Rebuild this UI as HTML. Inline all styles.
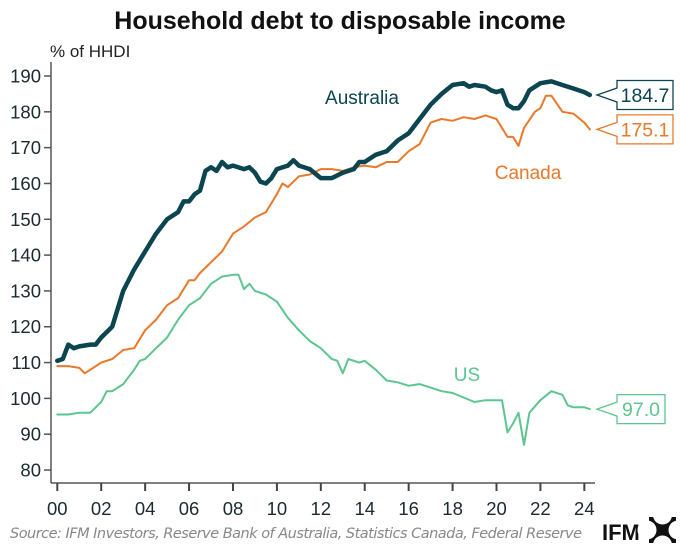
<!DOCTYPE html>
<html><head><meta charset="utf-8"><style>
body{margin:0;background:#fff;width:680px;height:553px;overflow:hidden;font-family:"Liberation Sans",sans-serif}
</style></head><body>
<svg id="chart" width="680" height="553">
<text x="340" y="29" text-anchor="middle" font-size="25" font-weight="bold" fill="#111">Household debt to disposable income</text>
<text x="50" y="57" font-size="17" fill="#222">% of HHDI</text>
<g id="axes"></g>
<g id="series"></g>
<text x="362" y="104" text-anchor="middle" font-size="19" fill="#0b4550">Australia</text>
<text x="528" y="179" text-anchor="middle" font-size="19" fill="#e8792b">Canada</text>
<text x="467" y="381" text-anchor="middle" font-size="19" fill="#5dc58f">US</text>
<g id="callouts"></g>
<text x="10" y="538" font-size="14.5" font-style="italic" fill="#888" font-family="'DejaVu Sans',sans-serif" textLength="572">Source: IFM Investors, Reserve Bank of Australia, Statistics Canada, Federal Reserve</text>
<text x="602" y="540" font-size="22" font-weight="bold" fill="#111">IFM</text>
<g>
<rect x="649" y="517" width="27" height="26" fill="#111"/>
<circle cx="662.5" cy="515" r="9.5" fill="#fff"/>
<circle cx="662.5" cy="545" r="9.5" fill="#fff"/>
<circle cx="647" cy="530" r="9.5" fill="#fff"/>
<circle cx="678" cy="530" r="9.5" fill="#fff"/>
</g>
</svg>
<script>
const ausDates=[2000,2000.25,2000.5,2000.75,2001,2001.5,2001.75,2002,2002.25,2002.5,2002.75,2003,2003.5,2004,2004.5,2005,2005.5,2005.75,2006,2006.25,2006.5,2006.75,2007,2007.25,2007.5,2007.75,2008,2008.5,2008.75,2009,2009.25,2009.5,2009.75,2010,2010.5,2010.75,2011,2011.5,2012,2012.5,2013,2013.5,2013.75,2014,2014.5,2015,2015.5,2016,2016.5,2017,2017.5,2018,2018.5,2018.75,2019,2019.5,2019.75,2020,2020.25,2020.5,2020.75,2021,2021.25,2021.5,2022,2022.5,2023,2023.5,2024,2024.25];
const ausValues=[110.5,111,115,114,114.5,115,115,117,118.5,120,125,130,136,141,146,150,152,155,155,157,158,163.5,164.5,163.5,166,164.5,165,164,164.5,163,160.5,160,161.5,164,165,166.5,165,164,161.5,161.5,163,164,166,166,168,169,172,174,178,182,185,187.5,188,187,187.5,187,186,185.5,186,182,181,181,183,186,188,188.5,187.5,186.5,185.5,184.7];
const canDates=[2000,2000.5,2001,2001.25,2002,2002.5,2003,2003.5,2004,2004.5,2005,2005.5,2006,2006.25,2006.5,2007,2007.5,2008,2008.5,2009,2009.5,2010,2010.25,2010.5,2011,2011.5,2012,2012.5,2013,2013.5,2014,2014.5,2015,2015.5,2016,2016.5,2017,2017.5,2018,2018.5,2019,2019.5,2020,2020.5,2020.75,2021,2021.25,2021.75,2022,2022.25,2022.5,2023,2023.5,2024,2024.25];
const canValues=[109,109,108.5,107,110,111,113.5,114,119,122,126,128,133,133,135,138,141,146,148,150.5,152,157,160,159,162,162.5,164,164,163.5,164.5,165,164.5,166,166,169,171,177,178,177.5,178.5,178,179,178,173,173,170.5,175.5,180,181,184.5,184.5,180,179.5,177,175.1];
const usDates=[2000,2000.5,2001,2001.5,2002,2002.25,2002.5,2003,2003.5,2003.75,2004,2004.5,2005,2005.5,2006,2006.5,2007,2007.25,2007.5,2008,2008.25,2008.5,2008.75,2009,2009.5,2010,2010.5,2011,2011.5,2012,2012.5,2012.75,2013,2013.25,2013.75,2014,2014.5,2015,2015.5,2016,2016.5,2017,2017.5,2018,2019,2019.5,2020.25,2020.5,2020.75,2021,2021.25,2021.5,2022,2022.5,2023,2023.25,2023.5,2024,2024.25];
const usValues=[95.5,95.5,96,96,99,102,102,104,108,110.5,111,114,117,122,126,128,132,133,134,134.5,134.5,130.5,132,130,129,127,122.5,119,116,114,111,110.5,107,111,110,110.5,108,105,104.5,103.5,104,103,102,101.5,99,99.5,99.5,90.5,93,96,87,96,99.5,102,101,98,97.5,97.5,97.0];
const yTicks=[80,90,100,110,120,130,140,150,160,170,180,190];
const xTicks=[2000,2002,2004,2006,2008,2010,2012,2014,2016,2018,2020,2022,2024];
const xTickLabels=["00","02","04","06","08","10","12","14","16","18","20","22","24"];
const calloutValues=[184.7,175.1,97.0];

const NS="http://www.w3.org/2000/svg";
const X=y=>57.3+(y-2000)*21.96;
const Y=v=>76+(190-v)*3.582;
function mk(tag,attrs,parent){const e=document.createElementNS(NS,tag);for(const k in attrs)e.setAttribute(k,attrs[k]);parent.appendChild(e);return e;}
const axes=document.getElementById('axes');
const ax=mk('line',{x1:51,y1:62,x2:51,y2:483,stroke:'#555','stroke-width':1.5},axes);


const bx=mk('line',{x1:51,y1:483,x2:595,y2:483,stroke:'#555','stroke-width':1.5},axes);


yTicks.forEach(v=>{
  const t=mk('line',{x1:44,x2:51,y1:Y(v),y2:Y(v),stroke:'#555','stroke-width':1.5},axes);
  
  
  const l=mk('text',{x:41,y:Y(v)+6.5,'text-anchor':'end','font-size':18.5,fill:'#1a2a30'},axes);
  l.textContent=v;
  
  
});
xTicks.forEach((yr,i)=>{
  const t=mk('line',{x1:X(yr),x2:X(yr),y1:483,y2:491,stroke:'#444','stroke-width':2},axes);
  
  
  const l=mk('text',{x:X(yr),y:515,'text-anchor':'middle','font-size':18.5,fill:'#1a2a30'},axes);
  l.textContent=xTickLabels[i];
  
  
});
const ser=document.getElementById('series');
function line(d,v,color,w,name){
  const p=mk('polyline',{points:d.map((x,i)=>X(x).toFixed(1)+','+Y(v[i]).toFixed(1)).join(' '),fill:'none',stroke:color,'stroke-width':w,'stroke-linejoin':'round','stroke-linecap':'round'},ser);
  
  
}
line(usDates,usValues,'#5dc58f',2,'us-line');
line(canDates,canValues,'#e8792b',2,'canada-line');
line(ausDates,ausValues,'#0b4550',4.5,'australia-line');
const co=document.getElementById('callouts');
const coColors=['#0b4550','#e8792b','#5dc58f'];
const coNames=['callout-australia','callout-canada','callout-us'];
const coW=[56,56,48];
calloutValues.forEach((v,i)=>{
  const cy=Y(v);
  const g=mk('g',{},co);
  
  
  const x0=597,bxl=617,bxr=bxl+coW[i],h=14.5;
  mk('path',{d:`M${x0} ${cy} L${bxl} ${cy-7} V${cy-h} H${bxr} V${cy+h} H${bxl} V${cy+7} Z`,fill:'#fff',stroke:coColors[i],'stroke-width':1.3},g);
  const t=mk('text',{x:(bxl+bxr)/2,y:cy+7,'text-anchor':'middle','font-size':19.5,fill:coColors[i]},g);
  t.textContent=v.toFixed(1);
});
</script>
</body></html>
